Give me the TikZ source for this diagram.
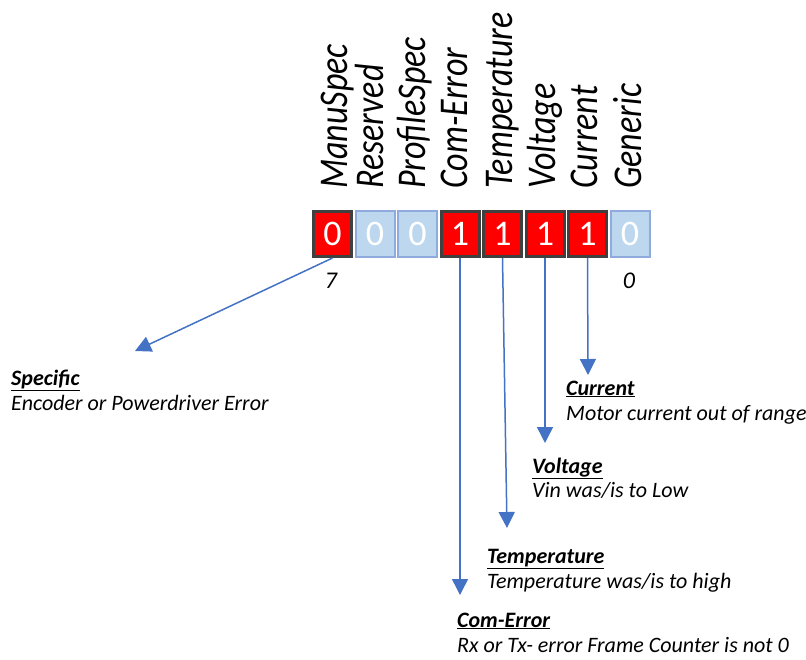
\documentclass[tikz,border=0pt]{standalone}
\usepackage{fontspec}
\setmainfont{Carlito}
\usetikzlibrary{arrows.meta}

\definecolor{bitred}{HTML}{FF0000}
\definecolor{bitframe}{HTML}{404040}
\definecolor{offfill}{HTML}{BDD7EE}
\definecolor{offframe}{HTML}{8FAADC}
\definecolor{pointer}{HTML}{4472C4}

\begin{document}
\begin{tikzpicture}[x=1pt, y=-1pt,
  bitset/.style={draw=bitframe, line width=3pt, fill=bitred,
    minimum width=38pt, minimum height=45pt, inner sep=0pt,
    text=white, font=\fontsize{36}{40}\selectfont},
  bitclear/.style={draw=offframe, line width=2pt, fill=offfill,
    minimum width=39pt, minimum height=46pt, inner sep=0pt,
    text=white, font=\fontsize{36}{40}\selectfont},
  flaglabel/.style={rotate=90, yscale=1.2, anchor=base west, inner sep=0pt,
    font=\fontsize{34}{40}\selectfont\itshape},
  bitnum/.style={inner sep=0pt, font=\fontsize{24}{28}\selectfont\itshape},
  desctitle/.style={anchor=base west, inner sep=0pt,
    font=\fontsize{22}{26}\selectfont\bfseries\itshape},
  desctext/.style={anchor=base west, inner sep=0pt,
    font=\fontsize{22}{26}\selectfont\itshape},
  pointerline/.style={draw=pointer, line width=1.5pt,
    -{Triangle[width=16pt, length=16pt]}}
]
\useasboundingbox (0,0) rectangle (806,659);

% status byte, bit 7 on the left
\node[bitset]   (b7) at (332.5,234) {0};
\node[bitclear] (b6) at (375,234)   {0};
\node[bitclear] (b5) at (417.5,234) {0};
\node[bitset]   (b4) at (460,234)   {1};
\node[bitset]   (b3) at (502.5,234) {1};
\node[bitset]   (b2) at (545,234)   {1};
\node[bitset]   (b1) at (587.5,234) {1};
\node[bitclear] (b0) at (630,234)   {0};

% flag names above the bits
\node[flaglabel] (l7) at (347,189) {ManuSpec};
\node[flaglabel] (l6) at (383,189) {Reserved};
\node[flaglabel] (l5) at (425,189) {ProfileSpec};
\node[flaglabel] (l4) at (467,189) {Com-Error};
\node[flaglabel] (l3) at (512,189) {Temperature};
\node[flaglabel] (l2) at (555,189) {Voltage};
\node[flaglabel] (l1) at (597,189) {Current};
\node[flaglabel] (l0) at (641,189) {Generic};

% bit numbering
\node[bitnum] (n7) at (331,281) {7};
\node[bitnum] (n0) at (629,281) {0};

% descriptions
\node[desctitle] (tS) at (11,385)  {\underline{Specific}};
\node[desctext]  (dS) at (11,410)  {Encoder or Powerdriver Error};
\node[desctitle] (tC) at (566,395) {\underline{Current}};
\node[desctext]  (dC) at (566,420) {Motor current out of range};
\node[desctitle] (tV) at (532,473) {\underline{Voltage}};
\node[desctext]  (dV) at (532,497) {Vin was/is to Low};
\node[desctitle] (tT) at (487,563) {\underline{Temperature}};
\node[desctext]  (dT) at (487,588) {Temperature was/is to high};
\node[desctitle] (tE) at (457,627) {\underline{Com-Error}};
\node[desctext]  (dE) at (457,652) {Rx or Tx- error Frame Counter is not 0};

% arrow ends
\coordinate (pS) at (135,351);
\coordinate (pC) at (588,375);
\coordinate (pV) at (545,443);
\coordinate (pT) at (507,528);
\coordinate (pE) at (460,595);

% pointers from the bits to their descriptions
\draw[pointerline] (b7.south) -- (pS);
\draw[pointerline] (b1.south) -- (pC);
\draw[pointerline] (b2.south) -- (pV);
\draw[pointerline] (b3.south) -- (pT);
\draw[pointerline] (b4.south) -- (pE);
\end{tikzpicture}
\end{document}
